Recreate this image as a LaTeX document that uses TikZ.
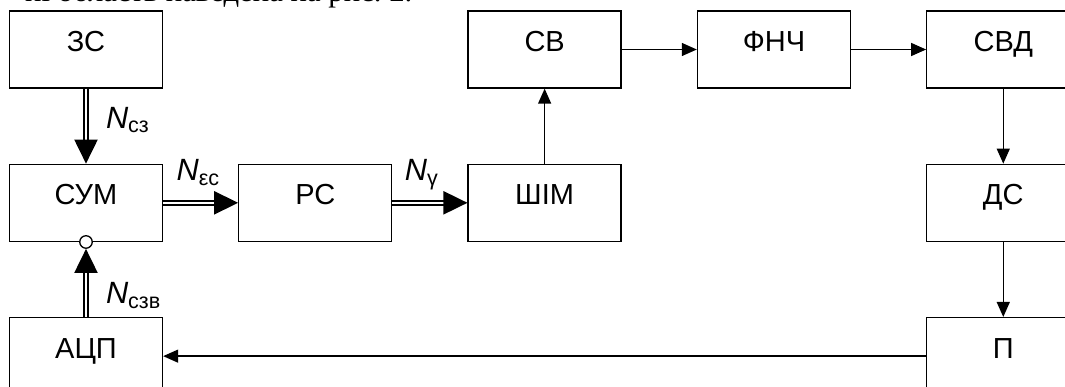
\documentclass[tikz,border=0pt]{standalone}
\usepackage{fontspec}
\setmainfont{Liberation Sans}
\newfontfamily\pageserif{Liberation Serif}
\usetikzlibrary{arrows.meta, positioning}

\begin{document}
\begin{tikzpicture}[>={Triangle[length=0.3cm, width=0.26cm]}, line width=0.75pt, node distance=1.5cm,
        block/.style={rectangle, draw, minimum width=3.06cm, minimum height=1.54cm, inner sep=0pt, text height=0.42cm, text depth=0.34cm, font=\fontsize{16.5}{20}\selectfont},
        dbl/.style={double, double distance=1.2pt, line width=1.15pt, -{Triangle[length=0.48cm, width=0.46cm]}},
        inv/.style={circle, draw, fill=white, minimum size=0.25cm, inner sep=0pt},
        lbl/.style={inner sep=0pt, font=\fontsize{17.5}{20}\selectfont}]
        \useasboundingbox (0,0) rectangle (21.3,-7.74);
        \clip (0,0) rectangle (21.3,-7.74);

        % cut-off line of the page text
        \node (txt) [anchor=base east, inner sep=0pt, font=\pageserif\fontsize{17.5}{20}\selectfont] at (8.26,-0.03) {ні область наведена на рис.~2.};

        \node (n1) [block] at (1.72,-0.99) {ЗС};
        \node (n2) [block, below=of n1] {СУМ};
        \node (n3) [block, right=of n2] {РС};
        \node (n4) [block, right=of n3] {ШІМ};
        \node (n5) [block, above=of n4] {СВ};
        \node (n6) [block, right=of n5] {ФНЧ};
        \node (n7) [block, right=of n6] {СВД};
        \node (n8) [block, below=of n7] {ДС};
        \node (n9) [block, below=of n8] {П};
        \node (n10) [block, below=of n2] {АЦП};
        \node (c1) [inv] at (n2.south) {};

        \draw[dbl] (n1) -- node[lbl, anchor=base west, xshift=0.38cm, yshift=-0.04cm] {\textit{N}\textsubscript{сз}} (n2);
        \draw[dbl] (n2) -- node[lbl, anchor=base west, xshift=-0.5cm, yshift=0.44cm] {\textit{N}\textsubscript{εс}} (n3);
        \draw[dbl] (n3) -- node[lbl, anchor=base west, xshift=-0.52cm, yshift=0.44cm] {\textit{N}\textsubscript{γ}} (n4);
        \draw[dbl] (n10) -- node[lbl, anchor=base west, xshift=0.38cm, yshift=-0.42cm] {\textit{N}\textsubscript{сзв}} (c1);
        \draw[->] (n4) -- (n5);
        \draw[->] (n5) -- (n6);
        \draw[->] (n6) -- (n7);
        \draw[->] (n7) -- (n8);
        \draw[->] (n8) -- (n9);
        \draw[->] (n9) -- (n10);
    \end{tikzpicture}
\end{document}
